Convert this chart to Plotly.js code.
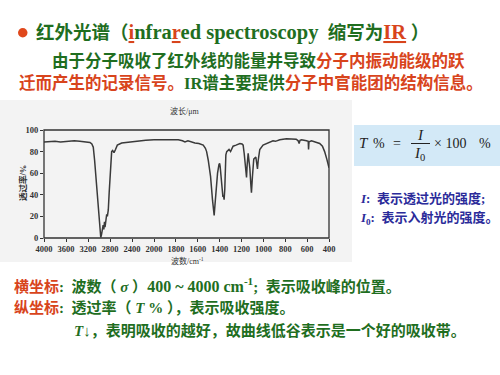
<!DOCTYPE html>
<html><head><meta charset="utf-8">
<script src="https://cdn.plot.ly/plotly-3.0.1.min.js"></script>
<style>html,body{margin:0;padding:0;background:#fff}#chart{width:500px;height:375px}</style>
</head><body><div id="chart"></div>
<script>
// IR spectrum: wavenumber (cm^-1) and transmittance (%)
const wavenumber = [4000,3900,3800,3700,3550,3450,3350,3250,3164,3130,3104,3080,3055,3035,3013,2995,2982,2968,2955,2940,2925,2912,2900,2890,2878,2860,2848,2831,2815,2800,2790,2782,2770,2752,2727,2700,2667,2588,2450,2300,2150,2000,
  1900,1800,1778,1740,1717,1690,1660,1626,1590,1550,1530,1519,1504,1483,1465,1455,1450,1443,1434,1419,1406,1400,1395,1389,1377,1370,1365,1359,1353,1350,1343,1335,1314,1300,1277,1250,1215,1195,1185,1175,1170,1162,1154,1148,1145,1139,1130,1124,1115,1109,1100,1088,1069,1062,1054,1047,1039,1033,1003,958,930,912,890,850,789,728,700,682,673,665,651,606,590,587,583,560,531,485,460,440,420,410,400];
const transmittance = [89,89.5,89.5,89,89.5,90,89.5,89,88.5,87,84,72,57,42,26,14,5,0.5,3,7,12,8,15,10,17,22,20,26,42,57,68,74,80,81,79,82,86,88,89,89.5,90.5,91,
  91,91,91,90,89,90,89,88,87.5,86,83,80,72,57,35,22,21,30,42,60,68,69,66,57,42,38,39.5,35.5,45,57,77,80,82,80,85,86,87.5,87,86,78,73,60,56,68,77,78.5,70,65,50,42,57,73,75,70,64,72,79,82,86,88,89,90,89.5,91,92,92,91.5,90,87.5,90.5,91,90,89.5,82,89,90,89,87.5,85,80,73,68,65];
const bottomTicks = [4000,3600,3200,2800,2400,2000,1800,1600,1400,1200,1000,800,600,400];
const topTickLabels = ['2.5','3.0','3.5','4.0','5','6','7','8','9','10','11','13','16','20','25'];
const yTicks = [0,20,40,60,80,100];

const G = '#1f6e1f', R = '#d8441c', B = '#2b2b9a', INK = '#333';
const px = x => x / 500, py = y => 1 - y / 375;
const FONT = 'Liberation Serif, Noto Sans CJK SC, serif';

const left = {x: [], y: []}, right = {x: [], y: []};
wavenumber.forEach((w, i) => {
  if (w >= 2000) { left.x.push(w); left.y.push(transmittance[i]); }
  if (w <= 2000) { right.x.push(w); right.y.push(transmittance[i]); }
});
const lineStyle = {color: '#3a3a3a', width: 1.5};
const traces = [
  {x: left.x, y: left.y, xaxis: 'x', yaxis: 'y', mode: 'lines', line: lineStyle, hoverinfo: 'skip'},
  {x: right.x, y: right.y, xaxis: 'x2', yaxis: 'y', mode: 'lines', line: lineStyle, hoverinfo: 'skip'}
];

const topVals = topTickLabels.map(s => 10000 / parseFloat(s));
const tickFont = {family: 'Liberation Serif, serif', size: 8.5, color: INK, weight: 'bold'};
const xCommon = {showgrid: false, zeroline: false, ticks: 'outside', ticklen: 3, tickcolor: INK, tickfont: tickFont, fixedrange: true, showline: false};
const split = px(154);
const layout = {
  width: 500, height: 375, margin: {l: 0, r: 0, t: 0, b: 0},
  paper_bgcolor: '#fff', plot_bgcolor: 'rgba(0,0,0,0)', showlegend: false,
  xaxis: Object.assign({}, xCommon, {domain: [px(44), split], range: [4000, 2000], anchor: 'y',
    tickvals: bottomTicks.filter(v => v >= 2000), ticktext: bottomTicks.filter(v => v >= 2000).map(String)}),
  xaxis2: Object.assign({}, xCommon, {domain: [split, px(329)], range: [2000, 400], anchor: 'y',
    tickvals: bottomTicks.filter(v => v < 2000), ticktext: bottomTicks.filter(v => v < 2000).map(String)}),
  xaxis3: Object.assign({}, xCommon, {overlaying: 'x', side: 'top', range: [4000, 2000], anchor: 'y',
    tickvals: topVals.filter(v => v >= 2000), ticktext: topTickLabels.filter((s, i) => topVals[i] >= 2000)}),
  xaxis4: Object.assign({}, xCommon, {overlaying: 'x2', side: 'top', range: [2000, 400], anchor: 'y',
    tickvals: topVals.filter(v => v < 1999), ticktext: topTickLabels.filter((s, i) => topVals[i] < 1999)}),
  yaxis: {domain: [py(238), py(130)], range: [0, 100], anchor: 'x', tickvals: yTicks, ticktext: yTicks.map(String),
    ticks: 'outside', ticklen: 3, tickcolor: INK, tickfont: tickFont, showgrid: false, zeroline: false, fixedrange: true},
  shapes: [
    {type: 'rect', xref: 'paper', yref: 'paper', x0: 0, x1: px(352), y0: py(262), y1: py(100), fillcolor: '#f3f3f3', line: {width: 0}, layer: 'below'},
    {type: 'rect', xref: 'paper', yref: 'paper', x0: px(44), x1: px(329), y0: py(238), y1: py(130), fillcolor: 'rgba(0,0,0,0)', line: {color: INK, width: 1.3}},
    {type: 'circle', xref: 'paper', yref: 'paper', x0: px(18), x1: px(27.5), y0: py(37.5), y1: py(28), fillcolor: '#e0481c', line: {width: 0}},
    {type: 'rect', xref: 'paper', yref: 'paper', x0: px(354), x1: px(500), y0: py(166), y1: py(125), fillcolor: '#d3e9f7', line: {width: 0}, layer: 'below'},
    {type: 'line', xref: 'paper', yref: 'paper', x0: px(411), x1: px(430), y0: py(143.5), y1: py(143.5), line: {color: '#222', width: 1}}
  ],
  annotations: []
};
const ann = (text, x, y, size, color, opts) => layout.annotations.push(Object.assign({
  text, x: px(x), y: py(y), xref: 'paper', yref: 'paper', xanchor: 'left', yanchor: 'middle', showarrow: false,
  font: {family: FONT, size, color}}, opts || {}));
const red = t => '<span style="color:' + R + '">' + t + '</span>';
const big = t => '<span style="font-size:20.5px">' + t + '</span>';

ann('<b>红外光谱（' + big(red('<u>i</u>') + 'nfra' + red('<u>r</u>') + 'ed spectroscopy') + '  缩写为' + big(red('<u>IR</u>')) + ' ）</b>', 34, 32.5, 18.5, G);
ann('<b>由于分子吸收了红外线的能量并导致' + red('分子内振动能级的跃') + '</b>', 50, 61, 16.5, G);
ann('<b>' + red('迁而产生的记录信号。') + 'IR谱主要提供' + red('分子中官能团的结构信息。') + '</b>', 17, 83, 16.5, G);

ann('波长/μm', 185, 111, 8, INK, {xanchor: 'center'});
ann('波数/cm<sup>-1</sup>', 187, 261, 8, INK, {xanchor: 'center'});
ann('<b>透过率/%</b>', 23, 183, 8.5, INK, {xanchor: 'center', textangle: -90});

ann('<i>T</i>', 357, 143, 15, '#222');
ann('%', 371, 143, 14, '#222');
ann('=', 397, 143, 14, '#222', {xanchor: 'center'});
ann('<i>I</i>', 420.5, 135, 15, '#222', {xanchor: 'center'});
ann('<i>I</i><sub>0</sub>', 419, 153.5, 15, '#222', {xanchor: 'center'});
ann('× 100', 432, 143, 14, '#222');
ann('%', 477, 143, 14, '#222');

ann('<b><i>I</i>:  表示透过光的强度;</b>', 358, 199, 13, B);
ann('<b><i>I</i><sub>0</sub>:  表示入射光的强度。</b>', 358, 218, 13, B);

ann('<b>' + red('横坐标') + ':  波数（ <i>σ</i> ）<span style="font-size:16px">400 ~ 4000 cm<sup>-1</sup></span>;  表示吸收峰的位置。</b>', 12, 285, 15, G);
ann('<b>' + red('纵坐标') + ':  透过率（ <i>T</i> % ），表示吸收强度。</b>', 12, 307, 15, G);
ann('<b><i>T</i>↓，表明吸收的越好，故曲线低谷表示是一个好的吸收带。</b>', 72, 330, 15, G);

Plotly.newPlot('chart', traces, layout, {staticPlot: true, displayModeBar: false});
</script></body></html>
